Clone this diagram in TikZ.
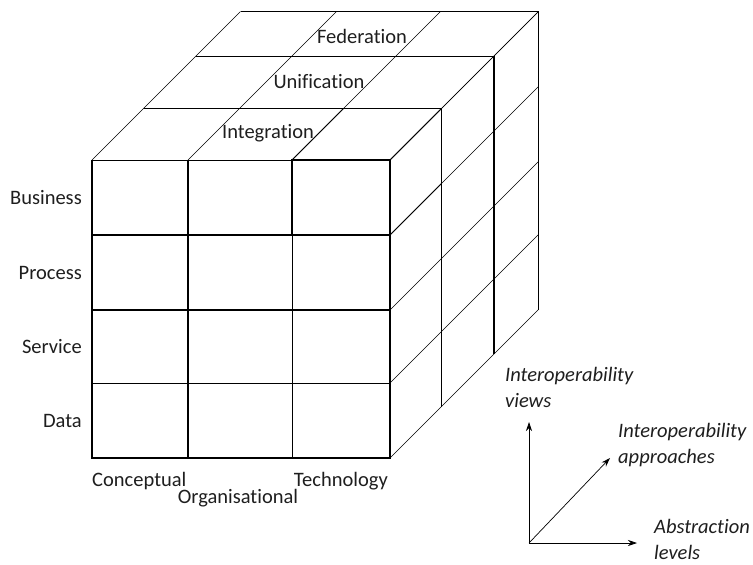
\documentclass[tikz,border=0pt]{standalone}
\usepackage{fontspec}
\setmainfont{Carlito}[Ligatures=NoCommon]
\usetikzlibrary{arrows.meta,positioning}
\definecolor{inkgray}{HTML}{1E1E1E}

\begin{document}
\begin{tikzpicture}[x=1pt,y=-1pt,>={Stealth[length=9pt,width=6pt]},
                    thin line/.style={line width=0.6pt},
                    mid line/.style={line width=1pt},
                    thick line/.style={line width=1.5pt},
                    lbl/.style={font=\fontsize{20.5}{26}\selectfont,text=inkgray,inner sep=0pt},
                    axis lbl/.style={lbl,font=\fontsize{20.5}{26}\selectfont\itshape,align=left}]

  \useasboundingbox (0,0) rectangle (753,565);

  % front face
  \foreach \x in {92,188,292,390} \draw[thin line] (\x,160) -- (\x,458);
  \foreach \y in {160,235,310,383,458} \draw[thin line] (92,\y) -- (390,\y);
  % top face
  \foreach \x in {92,188,292,390} \draw[thin line] (\x,160) -- ++(148.5,-148.5);
  \foreach \d in {51.5,104,148.5} \draw[thin line] (92+\d,160-\d) -- (390+\d,160-\d);
  % side face
  \foreach \y in {160,235,310,383,458} \draw[thin line] (390,\y) -- ++(148.5,-148.5);
  \foreach \d in {51.5,104,148.5} \draw[thin line] (390+\d,160-\d) -- (390+\d,458-\d);

  % outlined blocks
  \draw[thick line] (292,235) -- (292,160) -- (390,160) -- (390,458) -- (92,458) -- (92,160);
  \draw[thick line] (188,160) -- (188,458);
  \draw[thick line] (92,235) -- (390,235) (92,310) -- (390,310);
  \draw[mid line] (292,160) -- (343.5,108.5) (390,160) -- (441.5,108.5) (390,235) -- (441.5,183.5);
  \draw[thick line] (143.5,108.5) -- (441.5,108.5) -- (441.5,183.5);
  \draw[thick line] (494,56) -- (494,354);

  % layer names
  \node[lbl,anchor=base] (integration) at (268,138) {Integration};
  \node[lbl,anchor=base] (unification) at (319,88)  {Unification};
  \node[lbl,anchor=base] (federation)  at (362,43)  {Federation};

  % row names
  \node[lbl,anchor=base east] (business) at (82,204) {Business};
  \node[lbl,anchor=base east] (process)  at (82,279) {Process};
  \node[lbl,anchor=base east] (service)  at (82,353) {Service};
  \node[lbl,anchor=base east] (data)     at (82,427) {Data};

  % column names
  \node[lbl,anchor=base west] (conceptual)     at (92,486)  {Conceptual};
  \node[lbl,anchor=base east] (technology)     at (388,486) {Technology};
  \node[lbl,anchor=base]      (organisational) at (238,503) {Organisational};

  % axes
  \coordinate (origin)   at (529,543);
  \coordinate (viewtip)  at (529,422);
  \coordinate (apprtip)  at (610,458);
  \coordinate (leveltip) at (637,543);
  \path[->,line width=0.7pt] (origin) edge (viewtip)
                             (origin) edge (apprtip)
                             (origin) edge (leveltip);

  \node[axis lbl,anchor=base west] (views)      at (505,407) {Interoperability\\views};
  \node[axis lbl,anchor=base west] (approaches) at (618,463) {Interoperability\\approaches};
  \node[axis lbl,anchor=base west] (levels)     at (654,559) {Abstraction\\levels};
\end{tikzpicture}
\end{document}
